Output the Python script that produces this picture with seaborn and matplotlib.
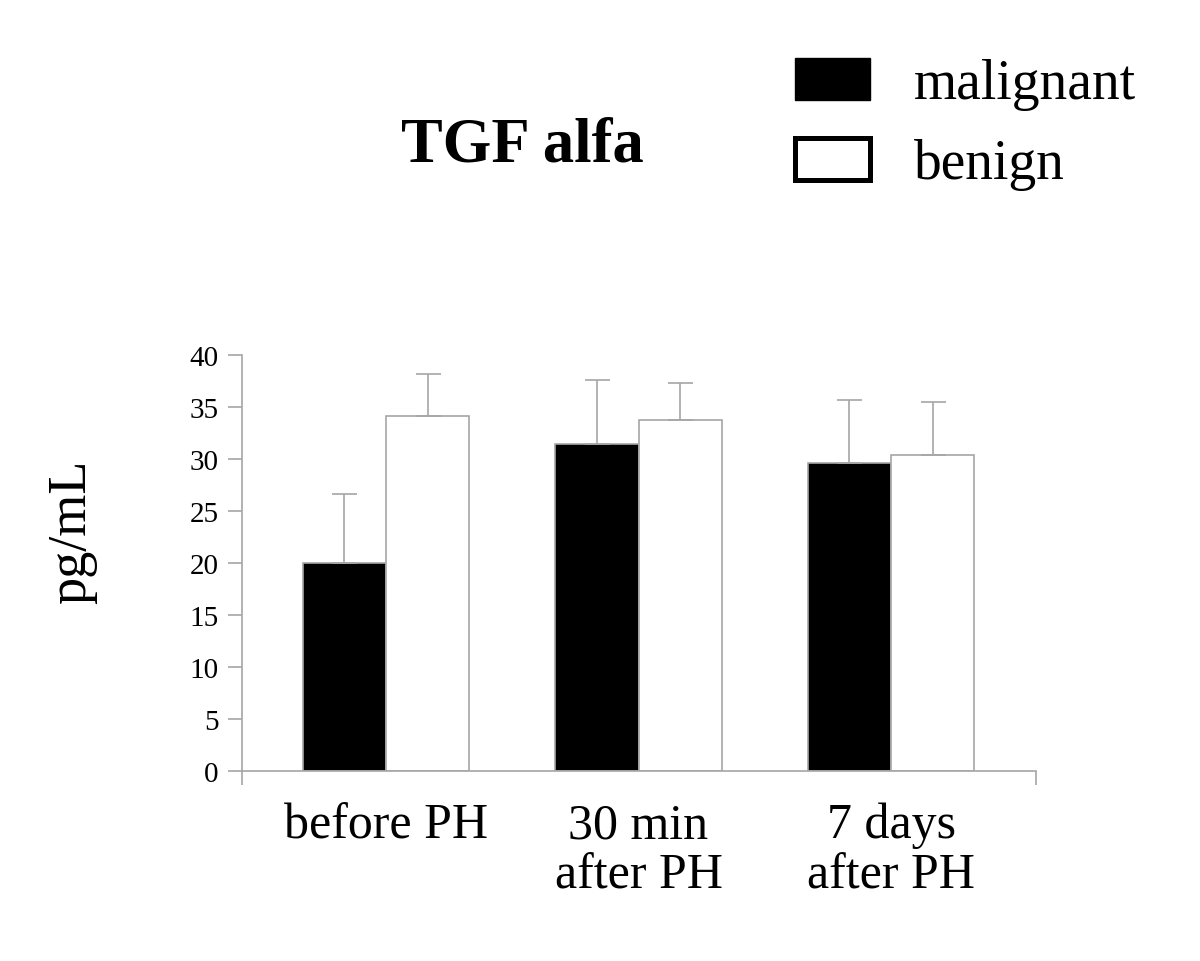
import pandas as pd
import seaborn as sns
import matplotlib.pyplot as plt
from matplotlib.patches import Patch

# values
times = ['before PH', '30 min\nafter PH', '7 days\nafter PH']
groups = ['malignant', 'benign']
malignant_mean = [20.0, 31.4, 29.6]
malignant_sd = [6.6, 6.2, 6.1]
benign_mean = [34.1, 33.8, 30.4]
benign_sd = [4.1, 3.5, 5.1]
y_ticks = [0, 5, 10, 15, 20, 25, 30, 35, 40]

grey = '#a6a6a6'

df = pd.DataFrame({
    'time': times * 2,
    'group': ['malignant'] * 3 + ['benign'] * 3,
    'value': malignant_mean + benign_mean,
    'sd': malignant_sd + benign_sd,
})

sns.set_style('white')
plt.rcParams['font.family'] = ['Liberation Serif', 'DejaVu Serif']
plt.rcParams['text.color'] = 'black'
plt.rcParams['axes.labelcolor'] = 'black'
plt.rcParams['xtick.labelcolor'] = 'black'
plt.rcParams['ytick.labelcolor'] = 'black'

fig = plt.figure(figsize=(12, 9.62), dpi=100)
ax = fig.add_axes([0.2017, 0.1975, 0.6617, 0.4324])

sns.barplot(data=df, x='time', y='value', hue='group', order=times,
            hue_order=groups, palette={'malignant': 'black', 'benign': 'white'},
            width=0.66, gap=0, edgecolor=grey, linewidth=1.2, errorbar=None,
            legend=False, ax=ax)

# upward-only error bars, placed on the drawn bars
for g, cont in zip(groups, ax.containers):
    sub = df[df['group'] == g].set_index('time').loc[times]
    xs = [p.get_x() + p.get_width() / 2 for p in cont.patches]
    ax.errorbar(xs, sub['value'], yerr=[[0] * 3, sub['sd']], fmt='none',
                ecolor=grey, elinewidth=1.2, capsize=9, capthick=1.2, zorder=1)

ax.set_ylim(0, 40)
ax.set_xlim(-0.57, 2.574)
ax.set_yticks(y_ticks)
ax.tick_params(axis='y', direction='out', length=10, width=1.2, color=grey,
               labelsize=21, pad=7, left=True)
ax.tick_params(axis='x', which='major', length=0, labelsize=36, pad=22)
ax.set_xticks([-0.57, 2.574], minor=True)
ax.tick_params(axis='x', which='minor', direction='out', length=10, width=1.2,
               color=grey, bottom=True)
for lab in ax.get_xticklabels():
    lab.set_linespacing(1.1)

for s in ['top', 'right']:
    ax.spines[s].set_visible(False)
for s in ['left', 'bottom']:
    ax.spines[s].set_color(grey)
    ax.spines[s].set_linewidth(1.2)

ax.set_xlabel('')
ax.set_ylabel('pg/mL', fontsize=39)
ax.yaxis.set_label_coords(-0.183, 0.577)

fig.text(0.435, 0.848, 'TGF alfa', fontsize=45, fontweight='bold',
         ha='center', va='center')

handles = [Patch(facecolor='black', edgecolor='black', linewidth=1),
           Patch(facecolor='white', edgecolor='black', linewidth=3.6)]
fig.legend(handles, groups, loc='upper left', bbox_to_anchor=(0.639, 0.968),
           frameon=False, fontsize=40, handlelength=1.35, handleheight=0.8,
           handletextpad=0.8, labelspacing=0.5, borderpad=0)

fig.savefig('out.png', dpi=100, facecolor='white')
